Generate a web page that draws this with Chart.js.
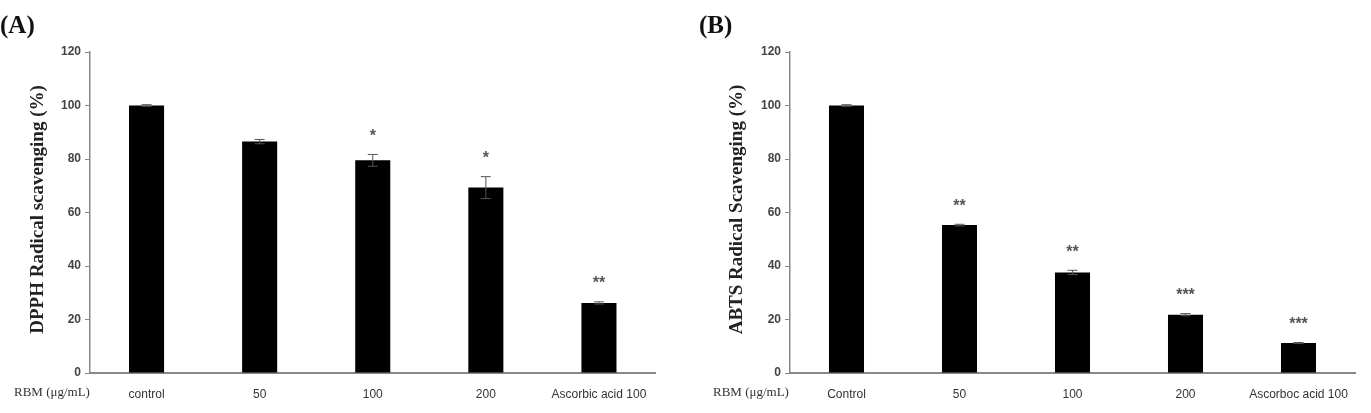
<!DOCTYPE html>
<html>
<head>
<meta charset="utf-8">
<script src="https://cdn.jsdelivr.net/npm/chart.js@4"></script>
<style>
  html, body { margin: 0; padding: 0; background: #fff; }
  #wrap { position: relative; width: 1371px; height: 413px; }
  #a { position: absolute; left: 0; top: 0; }
  #b { position: absolute; left: 685px; top: 0; }
</style>
</head>
<body>
<div id="wrap">
  <canvas id="a" width="685" height="413"></canvas>
  <canvas id="b" width="686" height="413"></canvas>
</div>
<script>
// panel A - DPPH
const dpphLabels = ['control', '50', '100', '200', 'Ascorbic acid 100'];
const dpphValues = [100, 86.5, 79.5, 69.3, 26.2];
const dpphErrors = [0.3, 0.8, 2.2, 4.1, 0.4];
const dpphStars = ['', '', '*', '*', '**'];

// panel B - ABTS
const abtsLabels = ['Control', '50', '100', '200', 'Ascorboc acid 100'];
const abtsValues = [100, 55.3, 37.6, 21.8, 11.2];
const abtsErrors = [0.3, 0.3, 0.8, 0.4, 0.2];
const abtsStars = ['', '**', '**', '***', '***'];

const yTicks = [0, 20, 40, 60, 80, 100, 120];

const serif = '"Liberation Serif", "Times New Roman", serif';
const sans = '"Liberation Sans", Arial, sans-serif';

// error bars, significance stars and the loose text around each panel
const decorations = {
  id: 'decorations',
  afterDatasetsDraw(chart, args, opts) {
    const ctx = chart.ctx;
    const x = chart.scales.x, y = chart.scales.y;
    const vals = chart.data.datasets[0].data;
    ctx.save();
    vals.forEach((v, i) => {
      const cx = x.getPixelForValue(i);
      const top = y.getPixelForValue(v + opts.errors[i]);
      const bot = y.getPixelForValue(v - opts.errors[i]);
      ctx.strokeStyle = '#555';
      ctx.lineWidth = 1;
      ctx.beginPath();
      ctx.moveTo(cx, top); ctx.lineTo(cx, bot);
      ctx.moveTo(cx - 5, top); ctx.lineTo(cx + 5, top);
      ctx.moveTo(cx - 5, bot); ctx.lineTo(cx + 5, bot);
      ctx.stroke();
      if (opts.stars[i]) {
        ctx.fillStyle = '#555';
        ctx.font = 'bold 16px ' + sans;
        ctx.textAlign = 'center';
        ctx.textBaseline = 'middle';
        ctx.fillText(opts.stars[i], cx, top - 18);
      }
    });

    // panel letter
    ctx.fillStyle = '#111';
    ctx.font = 'bold 25px ' + serif;
    ctx.textAlign = 'left';
    ctx.textBaseline = 'alphabetic';
    ctx.fillText(opts.letter, opts.letterX, 33);

    // y title
    ctx.save();
    ctx.translate(opts.titleX, (y.top + y.bottom) / 2 - 3);
    ctx.rotate(-Math.PI / 2);
    ctx.font = 'bold 19px ' + serif;
    ctx.textAlign = 'center';
    ctx.textBaseline = 'middle';
    ctx.fillStyle = '#222';
    ctx.fillText(opts.title, 0, 0);
    ctx.restore();

    // x caption
    ctx.font = '13px ' + serif;
    ctx.fillStyle = '#333';
    ctx.textAlign = 'left';
    ctx.textBaseline = 'middle';
    ctx.fillText('RBM (\u03bcg/mL)', opts.capX, 393);
    ctx.restore();
  }
};

function makeChart(id, labels, values, yWidth, padRight, extra) {
  return new Chart(document.getElementById(id), {
    type: 'bar',
    data: {
      labels: labels,
      datasets: [{
        data: values,
        backgroundColor: '#000',
        borderWidth: 0,
        categoryPercentage: 1,
        barPercentage: 0.31
      }]
    },
    options: {
      responsive: false,
      animation: false,
      layout: { padding: { top: 52, right: padRight, left: 0, bottom: 0 } },
      plugins: {
        legend: { display: false },
        tooltip: { enabled: false },
        decorations: extra
      },
      scales: {
        x: {
          grid: { display: false },
          border: { color: '#888', width: 2 },
          ticks: { color: '#333', font: { family: sans, size: 12 }, padding: 6, maxRotation: 0 },
          afterFit(scale) { scale.height = 40; }
        },
        y: {
          min: 0,
          max: 120,
          afterBuildTicks(scale) { scale.ticks = yTicks.map(v => ({ value: v })); },
          grid: { drawOnChartArea: false, tickLength: 5, color: '#888' },
          border: { color: '#888', width: 1.5 },
          ticks: { color: '#444', font: { family: sans, size: 12, weight: 'bold' }, padding: 4 },
          afterFit(scale) { scale.width = yWidth; }
        }
      }
    },
    plugins: [decorations]
  });
}

makeChart('a', dpphLabels, dpphValues, 90, 29.5, {
  errors: dpphErrors, stars: dpphStars, letter: '(A)', letterX: 0,
  title: 'DPPH Radical scavenging (%)', titleX: 38, capX: 14
});
makeChart('b', abtsLabels, abtsValues, 105, 16, {
  errors: abtsErrors, stars: abtsStars, letter: '(B)', letterX: 14,
  title: 'ABTS Radical Scavenging (%)', titleX: 52, capX: 28
});
</script>
</body>
</html>
